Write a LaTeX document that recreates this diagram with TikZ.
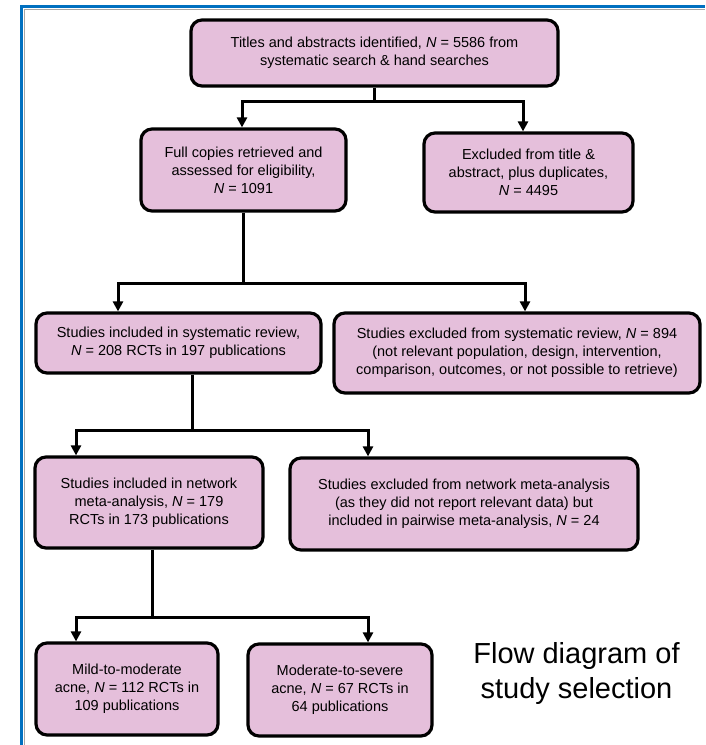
\documentclass[tikz,border=0pt]{standalone}
\usepackage{fontspec}
\setmainfont{Liberation Sans}
\usepackage{xcolor}
\definecolor{boxpink}{RGB}{229,191,219}
\definecolor{framblue}{RGB}{0,112,192}
\usepackage{tikz}
\usetikzlibrary{arrows.meta, positioning}

\begin{document}
\begin{tikzpicture}[x=1pt, y=1pt,
	box/.style={rectangle, draw=black, line width=3.2pt, fill=boxpink, rounded corners=11pt,
	            align=center, font=\fontsize{14.5}{18}\selectfont, inner sep=0pt},
	line/.style={draw=black, line width=3pt},
	arr2/.style={{Triangle[length=10pt,width=10pt]}-{Triangle[length=10pt,width=10pt]}, draw=black, line width=3pt},
	caption/.style={align=center, font=\fontsize{29}{35}\selectfont, inner sep=0pt}
	]
\useasboundingbox (0,0) rectangle (705,-745);
\draw[framblue, line width=3pt] (21,-745) -- (21,-6) -- (705,-6);
\draw[black!35, line width=0.8pt] (24.5,-745) -- (24.5,-9.5) -- (705,-9.5);

\node[box, minimum width=367pt, minimum height=66pt] (b1) at (374.5,-53) {Titles and abstracts identified, \textit{N} = 5586 from\\ systematic search \& hand searches};
\node[box, minimum width=205pt, minimum height=82pt] (b2) at (243.5,-170) {Full copies retrieved and\\ assessed for eligibility,\\ \textit{N} = 1091};
\node[box, minimum width=209pt, minimum height=79pt] (b3) at (528.5,-172.5) {Excluded from title \&\\ abstract, plus duplicates,\\ \textit{N} = 4495};
\node[box, minimum width=285pt, minimum height=60pt] (b4) at (178.5,-343) {Studies included in systematic review,\\ \textit{N} = 208 RCTs in 197 publications};
\node[box, minimum width=366pt, minimum height=80pt] (b5) at (517,-353) {Studies excluded from systematic review, \textit{N} = 894\\ (not relevant population, design, intervention,\\ comparison, outcomes, or not possible to retrieve)};
\node[box, minimum width=228pt, minimum height=91pt] (b6) at (149,-502.5) {Studies included in network\\ meta-analysis, \textit{N} = 179\\ RCTs in 173 publications};
\node[box, minimum width=348pt, minimum height=92pt] (b7) at (464,-504) {Studies excluded from network meta-analysis\\ (as they did not report relevant data) but\\ included in pairwise meta-analysis, \textit{N} = 24};
\node[box, minimum width=182pt, minimum height=92pt] (b8) at (127,-689) {Mild-to-moderate\\ acne, \textit{N} = 112 RCTs in\\ 109 publications};
\node[box, minimum width=184pt, minimum height=92pt] (b9) at (340,-690) {Moderate-to-severe\\ acne, \textit{N} = 67 RCTs in\\ 64 publications};
\node[caption] (cap) at (576.5,-673) {Flow diagram of\\ study selection};

\coordinate (r1l) at (242,-101);
\coordinate (r1r) at (523,-101);
\coordinate (r2l) at (118,-283);
\coordinate (r2r) at (525,-283);
\coordinate (r3m) at (192,-430);
\coordinate (r3l) at (76,-430);
\coordinate (r3r) at (368,-430);
\coordinate (r4m) at (152,-617);
\coordinate (r4l) at (76,-617);
\coordinate (r4r) at (368,-617);

\draw[line] (b1.south) -- (b1.south |- r1l);
\draw[arr2] (r1l |- b2.north) -- (r1l) -- (r1r) -- (r1r |- b3.north);
\draw[line] (b2.south) -- (b2.south |- r2l);
\draw[arr2] (r2l |- b4.north) -- (r2l) -- (r2r) -- (r2r |- b5.north);
\draw[line] (r3m |- b4.south) -- (r3m);
\draw[arr2] (r3l |- b6.north) -- (r3l) -- (r3r) -- (r3r |- b7.north);
\draw[line] (r4m |- b6.south) -- (r4m);
\draw[arr2] (r4l |- b8.north) -- (r4l) -- (r4r) -- (r4r |- b9.north);
\end{tikzpicture}
\end{document}
